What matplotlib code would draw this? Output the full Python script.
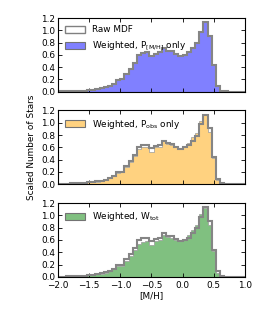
import numpy as np
import matplotlib
matplotlib.use("Agg")
import matplotlib.pyplot as plt

# 45 bins of width 1/15 from -2 to 1
bin_lo, bin_hi, n_bins = -2.0, 1.0, 45

raw_mdf = [0.005, 0.005, 0.008, 0.01, 0.012, 0.015, 0.02, 0.03, 0.035, 0.045,
           0.055, 0.075, 0.10, 0.13, 0.19, 0.20, 0.29, 0.37, 0.47, 0.60,
           0.63, 0.64, 0.59, 0.62, 0.64, 0.71, 0.67, 0.66, 0.61, 0.58,
           0.60, 0.64, 0.71, 0.79, 0.98, 1.13, 0.91, 0.44, 0.09, 0.01,
           0.005, 0.0, 0.0, 0.0, 0.0]

w_mh = [0.005, 0.005, 0.008, 0.01, 0.012, 0.015, 0.02, 0.03, 0.035, 0.045,
        0.055, 0.075, 0.10, 0.13, 0.19, 0.20, 0.29, 0.37, 0.47, 0.60,
        0.63, 0.64, 0.59, 0.62, 0.64, 0.71, 0.67, 0.66, 0.61, 0.58,
        0.60, 0.64, 0.71, 0.79, 0.98, 1.13, 0.91, 0.44, 0.09, 0.01,
        0.005, 0.0, 0.0, 0.0, 0.0]

w_obs = [0.004, 0.004, 0.007, 0.009, 0.011, 0.014, 0.018, 0.028, 0.032, 0.042,
         0.052, 0.07, 0.095, 0.125, 0.18, 0.19, 0.28, 0.36, 0.45, 0.57,
         0.60, 0.61, 0.53, 0.60, 0.61, 0.70, 0.66, 0.64, 0.60, 0.58,
         0.62, 0.67, 0.76, 0.84, 1.03, 1.12, 0.85, 0.42, 0.07, 0.01,
         0.004, 0.0, 0.0, 0.0, 0.0]

w_tot = [0.004, 0.004, 0.006, 0.008, 0.01, 0.013, 0.017, 0.026, 0.03, 0.04,
         0.05, 0.066, 0.09, 0.12, 0.17, 0.18, 0.26, 0.34, 0.43, 0.53,
         0.57, 0.58, 0.52, 0.58, 0.60, 0.68, 0.65, 0.63, 0.60, 0.59,
         0.62, 0.68, 0.77, 0.85, 1.03, 1.12, 0.85, 0.42, 0.07, 0.01,
         0.004, 0.0, 0.0, 0.0, 0.0]

labels = [r'Weighted, P$_{[M/H]}$ only',
          r'Weighted, P$_{obs}$ only',
          r'Weighted, W$_{tot}$']
fills = ['#8080ff', '#ffd280', '#80c080']
weighted = [w_mh, w_obs, w_tot]

plt.rcParams['font.family'] = ['DejaVu Sans']
plt.rcParams['font.size'] = 6.4
plt.rcParams['mathtext.default'] = 'regular'
plt.rcParams['xtick.direction'] = 'in'
plt.rcParams['ytick.direction'] = 'in'
plt.rcParams['xtick.top'] = True
plt.rcParams['ytick.right'] = True
plt.rcParams['xtick.major.size'] = 3
plt.rcParams['ytick.major.size'] = 3

edges = np.linspace(bin_lo, bin_hi, n_bins + 1)
centers = 0.5 * (edges[1:] + edges[:-1])

fig = plt.figure(figsize=(2.69, 3.23), dpi=100)
left, width = 0.2156, 0.695
bottoms = [0.716, 0.430, 0.143]
height = 0.228

for i in range(3):
    ax = fig.add_axes([left, bottoms[i], width, height])
    ax.hist(centers, bins=edges, weights=weighted[i], histtype='stepfilled',
            facecolor=fills[i], edgecolor='0.6', linewidth=0.5)
    ax.hist(centers, bins=edges, weights=raw_mdf, histtype='step',
            color='0.52', linewidth=1.5)
    ax.set_xlim(-2, 1)
    ax.set_ylim(0, 1.2)
    ax.set_xticks(np.arange(-2, 1.01, 0.5))
    ax.set_yticks(np.arange(0, 1.21, 0.2))
    ax.tick_params(axis='y', pad=2, width=0.6)
    ax.tick_params(axis='x', pad=3, width=0.6)
    for s in ax.spines.values():
        s.set_linewidth(0.8)
    if i < 2:
        ax.set_xticklabels([])
    else:
        ax.set_xlabel('[M/H]', labelpad=1)
    if i == 1:
        ax.set_ylabel('Scaled Number of Stars', labelpad=4)

    handles = []
    names = []
    if i == 0:
        handles.append(plt.Rectangle((0, 0), 1, 1, facecolor='white',
                                     edgecolor='0.5', linewidth=1.0))
        names.append('Raw MDF')
    handles.append(plt.Rectangle((0, 0), 1, 1, facecolor=fills[i],
                                 edgecolor='0.45', linewidth=0.8))
    names.append(labels[i])
    ax.legend(handles, names, loc='upper left', frameon=False,
              handlelength=2.2, handleheight=0.8, borderaxespad=0.4,
              labelspacing=0.6, handletextpad=0.8)

fig.savefig('out.png', dpi=100)
